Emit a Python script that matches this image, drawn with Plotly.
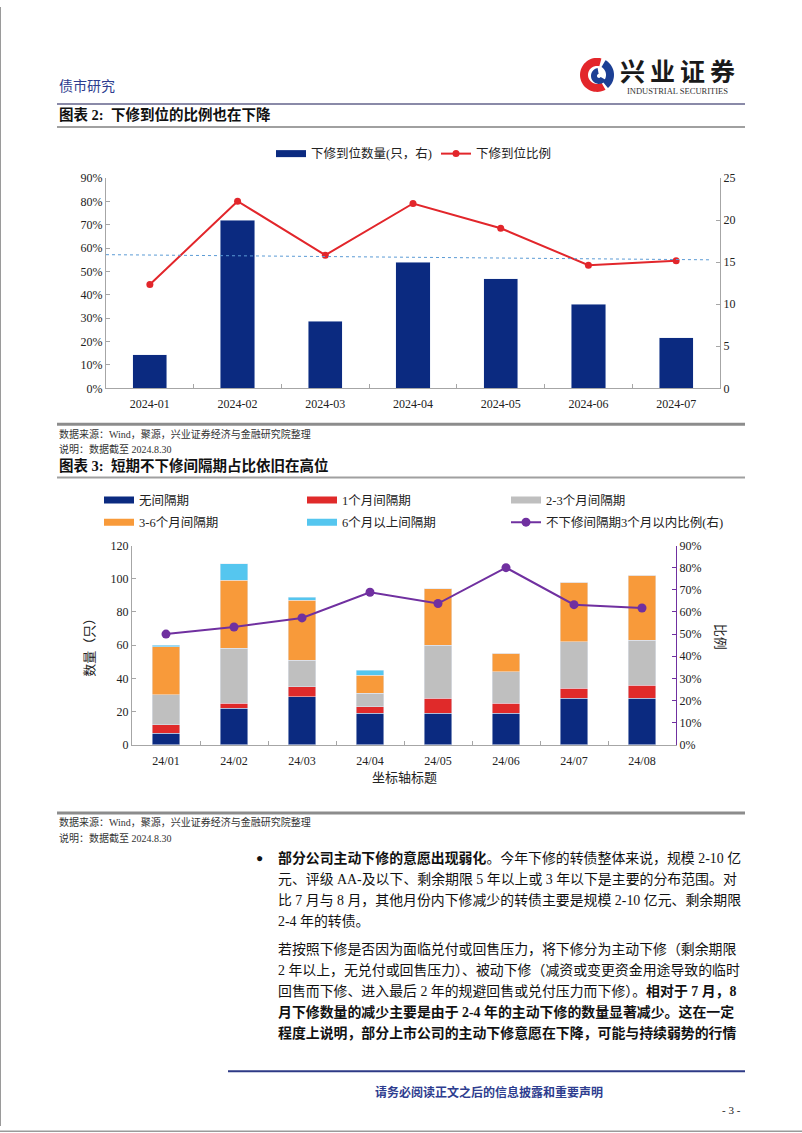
import numpy as np
import plotly.graph_objects as go

W, H = 802, 1133

# empirical correction for the photographed page (vertical offset / scale)
Y_OFF, Y_SCALE = 8.2, 0.9863


def px(x):
    return x / W


def py(y):
    return 1 - ((y - Y_OFF) / Y_SCALE) / H


# ---------------- data: chart 1 ----------------
months1 = ["2024-01", "2024-02", "2024-03", "2024-04", "2024-05", "2024-06", "2024-07"]
count1 = [4, 20, 8, 15, 13, 10, 6]                     # 下修到位数量(只，右)
ratio1 = [44.4, 80.1, 57.0, 79.1, 68.5, 52.7, 54.6]    # 下修到位比例 (%)
ref_level = [57.2, 55.0]                               # dotted reference line (%)

# ---------------- data: chart 2 ----------------
months2 = ["24/01", "24/02", "24/03", "24/04", "24/05", "24/06", "24/07", "24/08"]
gap_none = [7, 22, 29, 19, 19, 19, 28, 28]
gap_1m = [5, 3, 6, 4, 9, 6, 6, 8]
gap_2_3m = [18, 33, 16, 8, 32, 19, 28, 27]
gap_3_6m = [29, 41, 36, 11, 34, 11, 36, 39]
gap_6m_plus = [1, 10, 2, 3, 0, 0, 0, 0]
ratio2 = [50.0, 53.2, 57.3, 68.9, 63.8, 80.0, 63.3, 61.8]

series2 = [
    ("无间隔期", gap_none, "#0b2a80"),
    ("1个月间隔期", gap_1m, "#e02a2a"),
    ("2-3个月间隔期", gap_2_3m, "#bfbfbf"),
    ("3-6个月间隔期", gap_3_6m, "#f89a3a"),
    ("6个月以上间隔期", gap_6m_plus, "#55c6ef"),
]

NAVY = "#0b2a80"
RED = "#e2262b"
PURPLE = "#7030a0"
AXIS = "#a6a6a6"
FONT = "Liberation Serif, Noto Sans CJK SC, serif"
CJK = "Noto Sans CJK SC, sans-serif"

fig = go.Figure()

# ---- chart 1 ----
fig.add_trace(go.Bar(x=months1, y=count1, marker_color=NAVY, width=0.39,
                     xaxis="x", yaxis="y", showlegend=False, hoverinfo="skip"))
fig.add_trace(go.Scatter(x=[None], y=[None], mode="lines", name="下修到位数量(只，右)",
                         line=dict(color=NAVY, width=7), xaxis="x", yaxis="y",
                         legend="legend"))
fig.add_trace(go.Scatter(x=months1, y=ratio1, mode="lines+markers", name="下修到位比例",
                         line=dict(color=RED, width=2), marker=dict(color=RED, size=7),
                         xaxis="x", yaxis="y2", legend="legend2"))

# ---- chart 2 ----
legend_ids = ["legend3", "legend4", "legend5", "legend6", "legend7"]
for (name, vals, col), lg in zip(series2, legend_ids):
    fig.add_trace(go.Bar(x=months2, y=vals, marker_color=col, width=0.41, name=name,
                         xaxis="x2", yaxis="y3", showlegend=False, hoverinfo="skip"))
    fig.add_trace(go.Scatter(x=[None], y=[None], mode="lines", name=name,
                             line=dict(color=col, width=7), xaxis="x2", yaxis="y3",
                             legend=lg))
fig.add_trace(go.Scatter(x=months2, y=ratio2, mode="lines+markers",
                         name="不下修间隔期3个月以内比例(右)",
                         line=dict(color=PURPLE, width=2), marker=dict(color=PURPLE, size=9),
                         xaxis="x2", yaxis="y4", legend="legend8"))

tickfont = dict(family=FONT, size=12, color="#222")
axis_common = dict(showline=True, linecolor=AXIS, linewidth=1, ticks="inside",
                   tickcolor=AXIS, ticklen=4, showgrid=False, zeroline=False,
                   tickfont=tickfont, fixedrange=True)

L1, R1, T1, B1 = 106, 720, 179, 389
L2, R2, T2, B2 = 132, 676, 546, 745

layout = dict(
    width=W, height=H, margin=dict(l=0, r=0, t=0, b=0),
    paper_bgcolor="white", plot_bgcolor="rgba(0,0,0,0)",
    barmode="stack", bargap=0.5,
    font=dict(family=FONT, size=12, color="#222"),
    xaxis=dict(domain=[px(L1), px(R1)], anchor="y", type="category",
               tickson="boundaries", ticklabelstandoff=4, **axis_common),
    yaxis=dict(domain=[py(B1), py(T1)], anchor="x", side="right",
               range=[0, 25], dtick=5, **axis_common),
    yaxis2=dict(overlaying="y", anchor="x", side="left", range=[0, 90], dtick=10,
                ticksuffix="%", **axis_common),
    xaxis2=dict(domain=[px(L2), px(R2)], anchor="y3", type="category",
                tickson="boundaries", ticklabelstandoff=5, **axis_common),
    yaxis3=dict(domain=[py(B2), py(T2)], anchor="x2", side="left",
                range=[0, 120], dtick=20, **axis_common),
    yaxis4=dict(overlaying="y3", anchor="x2", side="right", range=[0, 90], dtick=10,
                ticksuffix="%", **{**axis_common, "linecolor": PURPLE, "tickcolor": PURPLE}),
    showlegend=True,
)

leg_font = dict(family=FONT, size=12.5, color="#222")


def leg(x, y):
    return dict(x=px(x), y=py(y), xanchor="left", yanchor="middle", orientation="h",
                bgcolor="rgba(0,0,0,0)", font=leg_font, itemclick=False,
                itemdoubleclick=False)


layout["legend"] = leg(271, 155)
layout["legend2"] = leg(436, 155)
layout["legend3"] = leg(99, 501)
layout["legend4"] = leg(302, 501)
layout["legend5"] = leg(506, 501)
layout["legend6"] = leg(99, 523)
layout["legend7"] = leg(302, 523)
layout["legend8"] = leg(506, 523)

fig.update_layout(**layout)

# dotted reference line in chart 1
fig.add_shape(type="line", xref="x domain", yref="y2", x0=0.0, x1=0.985,
              y0=ref_level[0], y1=ref_level[1],
              line=dict(color="#5b9bd5", width=1, dash="dot"))

# ---------------- page decoration ----------------
shapes = []


def hline(y, x0, x1, color, width):
    shapes.append(dict(type="line", xref="paper", yref="paper", x0=px(x0), x1=px(x1),
                       y0=py(y), y1=py(y), line=dict(color=color, width=width)))


hline(105, 57, 745, "#8a8aa8", 2)
hline(128, 57, 745, "#a0a0a0", 2)
hline(425, 57, 745, "#8c8c8c", 3)
hline(478, 57, 745, "#a0a0a0", 2)
hline(813, 57, 745, "#8c8c8c", 3)
hline(1071, 228, 745, "#2e3a86", 2)

# page frame (left and bottom edges)
shapes.append(dict(type="line", xref="paper", yref="paper", x0=px(0.5), x1=px(0.5),
                   y0=0, y1=1, line=dict(color="#9a9a9a", width=1)))
hline(1131, 0, 802, "#9a9a9a", 1.5)


def poly_path(pts):
    s = "M" + " L".join(f"{px(x):.5f},{py(y):.5f}" for x, y in pts) + " Z"
    return s


def annulus(cx, cy, r_out, r_in, a0, a1, n=40):
    angs = np.radians(np.linspace(a0, a1, n))
    outer = [(cx + r_out * np.cos(a), cy - r_out * np.sin(a)) for a in angs]
    inner = [(cx + r_in * np.cos(a), cy - r_in * np.sin(a)) for a in angs[::-1]]
    return poly_path(outer + inner)


cx, cy = 597, 76
shapes.append(dict(type="path", xref="paper", yref="paper",
                   path=annulus(cx, cy, 17, 9, 75, 300), fillcolor="#e3262b",
                   line=dict(width=0)))
shapes.append(dict(type="path", xref="paper", yref="paper",
                   path=annulus(cx, cy, 17, 9, -50, 60), fillcolor="#1c3f94",
                   line=dict(width=0)))
shapes.append(dict(type="path", xref="paper", yref="paper",
                   path=annulus(cx + 2, cy + 1, 8, 2, 100, 330), fillcolor="#1c3f94",
                   line=dict(width=0)))

for s in shapes:
    fig.add_shape(**s)

ann = []


def text(x, y, t, size=12, color="#111", anchor="left", family=FONT, **kw):
    ann.append(dict(x=px(x), y=py(y), xref="paper", yref="paper", text=t, showarrow=False,
                    xanchor=anchor, yanchor="middle",
                    font=dict(family=family, size=size, color=color), **kw))


text(57, 86, "债市研究", size=14, color="#2e3d8f", family=CJK)
text(677, 71, "<b>兴\u2009业\u2009证\u2009券</b>", size=25, color="#1a1a1a", anchor="center",
     family=CJK)
text(677, 92, "INDUSTRIAL SECURITIES", size=8.5, color="#333", anchor="center",
     family="Liberation Serif")

text(57, 116, "<b>图表 2:  下修到位的比例也在下降</b>", size=14.5, color="#111")
text(57, 435, "数据来源：Wind，聚源，兴业证券经济与金融研究院整理", size=10, color="#333")
text(57, 450, "说明：数据截至 2024.8.30", size=10, color="#333")
text(57, 466, "<b>图表 3:  短期不下修间隔期占比依旧在高位</b>", size=14.5, color="#111")

text(57, 822, "数据来源：Wind，聚源，兴业证券经济与金融研究院整理", size=10, color="#333")
text(57, 838, "说明：数据截至 2024.8.30", size=10, color="#333")

# chart 2 axis titles
text(404, 778, "坐标轴标题", size=13, color="#222", anchor="center")
text(90, 645, "数量（只）", size=13, color="#222", anchor="center", textangle=-90)
text(720, 637, "比例", size=13, color="#222", anchor="center", textangle=90)

# body text
body_x = 276
text(259, 858, "●", size=12, color="#111", anchor="center")
para = [
    (858, "<b>部分公司主动下修的意愿出现弱化</b>。今年下修的转债整体来说，规模 2-10 亿"),
    (879, "元、评级 AA-及以下、剩余期限 5 年以上或 3 年以下是主要的分布范围。对"),
    (900, "比 7 月与 8 月，其他月份内下修减少的转债主要是规模 2-10 亿元、剩余期限"),
    (921, "2-4 年的转债。"),
    (949, "若按照下修是否因为面临兑付或回售压力，将下修分为主动下修（剩余期限"),
    (970, "2 年以上，无兑付或回售压力）、被动下修（减资或变更资金用途导致的临时"),
    (991, "回售而下修、进入最后 2 年的规避回售或兑付压力而下修）。<b>相对于 7 月，8</b>"),
    (1012, "<b>月下修数量的减少主要是由于 2-4 年的主动下修的数量显著减少。这在一定</b>"),
    (1033, "<b>程度上说明，部分上市公司的主动下修意愿在下降，可能与持续弱势的行情</b>"),
]
for y, t in para:
    text(body_x, y, t, size=13.9, color="#111")

text(489, 1091, "<b>请务必阅读正文之后的信息披露和重要声明</b>", size=12, color="#2e3d8f",
     anchor="center", family=CJK)
text(743, 1110, "- 3 -", size=11, color="#222", anchor="right")

fig.update_layout(annotations=ann)

post = ("document.documentElement.style.margin='0';"
        "document.body.style.margin='0';document.body.style.padding='0';"
        "document.body.style.overflow='hidden';"
        "var d=document.getElementById('{plot_id}');"
        "d.style.position='fixed';d.style.top='0px';d.style.left='0px';")

fig.write_html("out.html", config={"displayModeBar": False}, post_script=post)
